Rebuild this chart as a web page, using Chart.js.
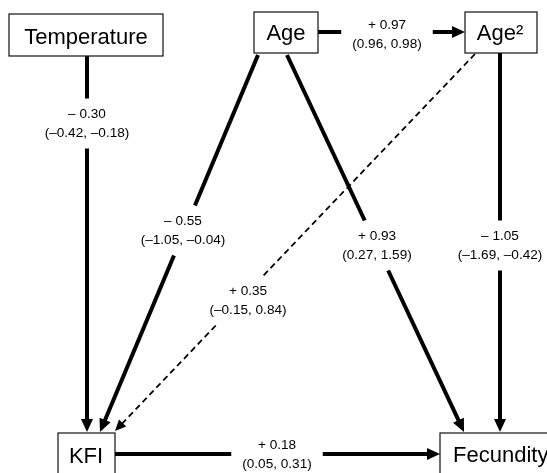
<!DOCTYPE html>
<html>
<head>
<meta charset="utf-8">
<script src="https://cdn.jsdelivr.net/npm/chart.js@4"></script>
<style>
  html, body { margin: 0; padding: 0; background: #ffffff; }
  #wrap { width: 547px; height: 473px; position: relative; }
</style>
</head>
<body>
<div id="wrap"><canvas id="c"></canvas></div>
<script>
// ---- Data ----
const nodeNames = ['Temperature', 'Age', 'Age²', 'KFI', 'Fecundity'];
const edgeFrom  = ['Temperature', 'Age', 'Age', 'Age', 'Age²', 'Age²', 'KFI'];
const edgeTo    = ['KFI', 'KFI', 'Fecundity', 'Age²', 'KFI', 'Fecundity', 'Fecundity'];
const estimates = [-0.30, -0.55, 0.93, 0.97, 0.35, -1.05, 0.18];
const ciLower   = [-0.42, -1.05, 0.27, 0.96, -0.15, -1.69, 0.05];
const ciUpper   = [-0.18, -0.04, 1.59, 0.98, 0.84, -0.42, 0.31];

// ---- Layout (diagram coordinates, mapped through the chart's scales) ----
const nodeLayout = {
  'Temperature': { box: [9, 14, 163, 56],   text: [86, 44],  align: 'center' },
  'Age':         { box: [254, 12, 318, 53], text: [286, 40], align: 'center' },
  'Age²':        { box: [465, 12, 537, 53], text: [500, 40], align: 'center' },
  'KFI':         { box: [58, 433, 115, 495], text: [86, 463], align: 'center' },
  'Fecundity':   { box: [440, 433, 620, 495], text: [453, 462], align: 'left' }
};
const edgeLayout = [
  { p0: [87, 56],   p1: [87, 432],  label: [87, 123.5] },
  { p0: [258, 55],  p1: [100, 432], label: [183, 230.5] },
  { p0: [287, 55],  p1: [464, 432], label: [377, 245.5] },
  { p0: [318, 32],  p1: [465, 32],  label: [387, 34.5] },
  { p0: [475, 54],  p1: [115, 431], label: [248, 300.5] },
  { p0: [500, 53],  p1: [500, 432], label: [500, 245.5] },
  { p0: [115, 454], p1: [440, 454], label: [277, 454.5] }
];

function fmtEst(v) { return (v < 0 ? '\u2013 ' : '+ ') + Math.abs(v).toFixed(2); }
function fmtCI(v)  { return (v < 0 ? '\u2013' : '') + Math.abs(v).toFixed(2); }

const NODE_FONT = '22px "Liberation Sans", Arial, sans-serif';
const LABEL_FONT = '13.6px "Liberation Sans", Arial, sans-serif';

// clip segment against rect: returns [tEnter, tExit] or null
function clipT(x0, y0, x1, y1, r) {
  let t0 = 0, t1 = 1;
  const dx = x1 - x0, dy = y1 - y0;
  const p = [-dx, dx, -dy, dy];
  const q = [x0 - r[0], r[2] - x0, y0 - r[1], r[3] - y0];
  for (let i = 0; i < 4; i++) {
    if (p[i] === 0) { if (q[i] < 0) return null; }
    else {
      const t = q[i] / p[i];
      if (p[i] < 0) { if (t > t1) return null; if (t > t0) t0 = t; }
      else { if (t < t0) return null; if (t < t1) t1 = t; }
    }
  }
  return [t0, t1];
}

const diagramPlugin = {
  id: 'pathDiagram',
  afterDatasetsDraw(chart) {
    const ctx = chart.ctx;
    const xs = chart.scales.x, ys = chart.scales.y;
    const X = v => xs.getPixelForValue(v);
    const Y = v => ys.getPixelForValue(v);
    ctx.save();

    // Edges
    ctx.font = LABEL_FONT;
    edgeFrom.forEach((from, i) => {
      const L = edgeLayout[i];
      const dashed = ciLower[i] < 0 && ciUpper[i] > 0; // CI spans zero
      const x0 = X(L.p0[0]), y0 = Y(L.p0[1]);
      const x1 = X(L.p1[0]), y1 = Y(L.p1[1]);
      const lx = X(L.label[0]), ly = Y(L.label[1]);
      const line1 = fmtEst(estimates[i]);
      const line2 = '(' + fmtCI(ciLower[i]) + ', ' + fmtCI(ciUpper[i]) + ')';
      const w = Math.max(ctx.measureText(line1).width, ctx.measureText(line2).width);
      const rect = [lx - w / 2 - 11, ly - 17 - 8, lx + w / 2 + 11, ly + 17 + 8];

      const len = Math.hypot(x1 - x0, y1 - y0);
      const ux = (x1 - x0) / len, uy = (y1 - y0) / len;
      const headLen = dashed ? 11 : 13;
      const headHalf = dashed ? 5 : 6;
      const tEnd = (len - headLen + 1) / len;
      const clip = clipT(x0, y0, x1, y1, rect);

      ctx.strokeStyle = '#000';
      ctx.fillStyle = '#000';
      ctx.lineWidth = dashed ? 1.8 : 4;
      ctx.lineCap = 'butt';
      ctx.setLineDash(dashed ? [6, 4] : []);
      const seg = (ta, tb) => {
        if (tb <= ta) return;
        ctx.beginPath();
        ctx.moveTo(x0 + (x1 - x0) * ta, y0 + (y1 - y0) * ta);
        ctx.lineTo(x0 + (x1 - x0) * tb, y0 + (y1 - y0) * tb);
        ctx.stroke();
      };
      if (clip) { seg(0, clip[0]); seg(clip[1], tEnd); }
      else seg(0, tEnd);
      ctx.setLineDash([]);

      // arrowhead
      const bx = x1 - ux * headLen, by = y1 - uy * headLen;
      ctx.beginPath();
      ctx.moveTo(x1, y1);
      ctx.lineTo(bx - uy * headHalf, by + ux * headHalf);
      ctx.lineTo(bx + uy * headHalf, by - ux * headHalf);
      ctx.closePath();
      ctx.fill();

      // label
      ctx.fillStyle = '#000';
      ctx.textAlign = 'center';
      ctx.textBaseline = 'middle';
      ctx.fillText(line1, lx, ly - 9.5);
      ctx.fillText(line2, lx, ly + 9.5);
    });

    // Nodes
    ctx.font = NODE_FONT;
    nodeNames.forEach(name => {
      const n = nodeLayout[name];
      const bx0 = X(n.box[0]), by0 = Y(n.box[1]), bx1 = X(n.box[2]), by1 = Y(n.box[3]);
      ctx.fillStyle = '#fff';
      ctx.fillRect(bx0, by0, bx1 - bx0, by1 - by0);
      ctx.strokeStyle = '#111';
      ctx.lineWidth = 1.2;
      ctx.strokeRect(bx0, by0, bx1 - bx0, by1 - by0);
      ctx.fillStyle = '#000';
      ctx.textAlign = n.align;
      ctx.textBaseline = 'alphabetic';
      ctx.fillText(name, X(n.text[0]), Y(n.text[1]));
    });
    ctx.restore();
  }
};

new Chart(document.getElementById('c'), {
  type: 'scatter',
  data: {
    datasets: [{
      data: nodeNames.map(n => ({ x: nodeLayout[n].text[0], y: nodeLayout[n].text[1] })),
      pointRadius: 0
    }]
  },
  options: {
    responsive: true,
    maintainAspectRatio: false,
    animation: false,
    devicePixelRatio: 1,
    layout: { padding: 0 },
    plugins: { legend: { display: false }, tooltip: { enabled: false } },
    scales: {
      x: { type: 'linear', min: 0, max: 547, display: false },
      y: { type: 'linear', min: 0, max: 473, reverse: true, display: false }
    }
  },
  plugins: [diagramPlugin]
});
</script>
</body>
</html>
